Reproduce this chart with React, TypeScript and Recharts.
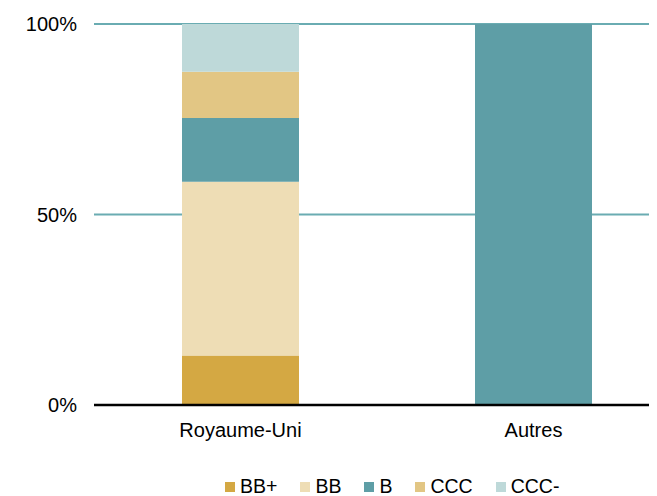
import React from 'react';
import { BarChart, Bar, XAxis, YAxis, CartesianGrid } from 'recharts';

// Categories and rating shares (percent of each country's total)
const categories = ['Royaume-Uni', 'Autres'];
const ratings = ['BB+', 'BB', 'B', 'CCC', 'CCC-'];
const bbPlus = [13.0, 0];
const bb = [45.6, 0];
const b = [16.7, 100];
const ccc = [12.2, 0];
const cccMinus = [12.5, 0];
const yTicks = [0, 50, 100];

const COLORS = ['#D4A843', '#EEDDB5', '#5E9EA6', '#E2C684', '#BED9D9'];
const FONT = 'Liberation Sans, Arial, sans-serif';

const seriesValues = [bbPlus, bb, b, ccc, cccMinus];

const data = categories.map((name, i) => {
  const row: any = { name };
  ratings.forEach((r, k) => {
    row[r] = seriesValues[k][i];
  });
  return row;
});

const RatingLegend = () => (
  <div
    style={{
      position: 'absolute',
      top: 475,
      left: 225,
      display: 'flex',
      alignItems: 'center',
      fontFamily: FONT,
      fontSize: 19.5,
      color: '#000',
      whiteSpace: 'nowrap',
    }}
  >
    {ratings.map((r, i) => (
      <div key={r} style={{ display: 'flex', alignItems: 'center', marginRight: 23 }}>
        <span style={{ width: 10, height: 10, background: COLORS[i], display: 'inline-block', marginRight: 5 }} />
        <span>{r}</span>
      </div>
    ))}
  </div>
);

export default function App() {
  return (
    <div
      style={{
        position: 'relative',
        marginLeft: -8,
        marginTop: -8,
        width: 657,
        height: 496,
        overflow: 'hidden',
        background: '#fff',
      }}
    >
      <BarChart
        width={700}
        height={496}
        data={data}
        margin={{ top: 24, right: 20, left: 0, bottom: 0 }}
      >
        <CartesianGrid vertical={false} stroke="#6AACB2" strokeWidth={2} />
        <XAxis
          dataKey="name"
          height={91}
          tickLine={false}
          tickSize={0}
          tickMargin={18}
          axisLine={{ stroke: '#000', strokeWidth: 2.5 }}
          tick={{ fill: '#000', fontSize: 20, fontFamily: FONT }}
        />
        <YAxis
          width={94}
          domain={[0, 100]}
          ticks={yTicks}
          tickFormatter={(v: number) => `${v}%`}
          axisLine={false}
          tickLine={false}
          tickSize={0}
          tickMargin={17}
          tick={{ fill: '#000', fontSize: 20, fontFamily: FONT }}
        />
        {ratings.map((r, i) => (
          <Bar
            key={r}
            dataKey={r}
            stackId="a"
            fill={COLORS[i]}
            barSize={117}
            isAnimationActive={false}
          />
        ))}
      </BarChart>
      <RatingLegend />
    </div>
  );
}
